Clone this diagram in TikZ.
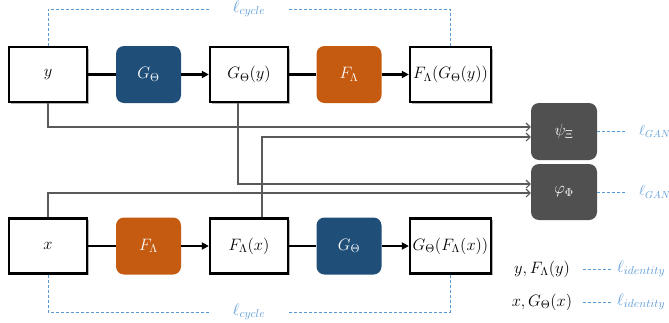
\RequirePackage{fix-cm}
\documentclass[tikz,border=0pt]{standalone}
\usetikzlibrary{arrows.meta,calc,shadows}
\definecolor{gblue}{HTML}{1F4E79}
\definecolor{forange}{HTML}{C55A11}
\definecolor{dgray}{HTML}{505050}
\definecolor{lblue}{HTML}{5B9BD5}
\definecolor{cgray}{HTML}{5A5A5A}
\newcommand{\bigtxt}{\fontsize{16.5}{19}\selectfont}
\newcommand{\gantxt}{\fontsize{14.5}{17}\selectfont}
\tikzset{every node/.style={font=\bigtxt}}
\begin{document}
\begin{tikzpicture}[x=1pt,y=-1pt,
  databox/.style={draw=black,line width=2.3pt,fill=white,minimum width=78pt,minimum height=55pt,inner sep=0pt,
     drop shadow={shadow xshift=1.5pt,shadow yshift=-1.5pt,opacity=0.3,fill=black}},
  netbox/.style={rounded corners=8pt,minimum width=65pt,minimum height=57pt,inner sep=0pt,text=white},
  gbox/.style={netbox,fill=gblue},
  fbox/.style={netbox,fill=forange},
  dbox/.style={netbox,fill=dgray,minimum width=66pt},
  mainline/.style={line width=2.3pt,black},
  mainarrow/.style={mainline,-{Triangle[length=7pt,width=7pt]}},
  feed/.style={cgray,line width=1.1pt,-{Straight Barb[length=4pt,width=8pt]}},
  lossline/.style={lblue,line width=1pt,dash pattern=on 3pt off 2pt},
  losslabel/.style={text=lblue,inner sep=0pt},
]
\useasboundingbox (0,0) rectangle (669,322);

% top row
\node[databox] (y) at (48,74.5) {$y$};
\node[gbox] (G1) at (148.5,74.5) {$G_\Theta$};
\node[databox] (Gy) at (249,74.5) {$G_\Theta(y)$};
\node[fbox] (F1) at (349,74.5) {$F_\Lambda$};
\node[databox,minimum width=81pt] (FGy) at (450.5,74.5) {$F_\Lambda(G_\Theta(y))$};

% bottom row
\node[databox] (x) at (48,246) {$x$};
\node[fbox] (F2) at (148.5,246) {$F_\Lambda$};
\node[databox] (Fx) at (249,246) {$F_\Lambda(x)$};
\node[gbox] (G2) at (349,246) {$G_\Theta$};
\node[databox,minimum width=81pt] (GFx) at (450.5,246) {$G_\Theta(F_\Lambda(x))$};

% discriminators
\node[dbox] (psi) at (564,131.5) {$\psi_\Xi$};
\node[dbox,minimum height=56pt] (phi) at (564,192) {$\varphi_\Phi$};

% main flow
\draw[mainline] (y) -- (G1);
\draw[mainarrow] (G1) -- (Gy);
\draw[mainline] (Gy) -- (F1);
\draw[mainarrow] (F1) -- (FGy);
\draw[mainline] (x) -- (F2);
\draw[mainarrow] (F2) -- (Fx);
\draw[mainline] (Fx) -- (G2);
\draw[mainarrow] (G2) -- (GFx);

% feeds to discriminators
\draw[feed] (y.south) |- ($(psi.west)+(0,-4.5)$);
\draw[feed] ($(Fx.north)+(13,0)$) |- ($(psi.west)+(0,5.5)$);
\draw[feed] ($(Gy.south)+(-11,0)$) |- ($(phi.west)+(0,-8)$);
\draw[feed] (x.north) |- ($(phi.west)+(0,1)$);

% cycle losses
\node[losslabel,minimum width=80pt] (lc1) at (249,9) {$\ell_{cycle}$};
\draw[lossline] (y.north) |- (lc1.west);
\draw[lossline] (lc1.east) -| (FGy.north);
\node[losslabel,minimum width=80pt] (lc2) at (249,312) {$\ell_{cycle}$};
\draw[lossline] (x.south) |- (lc2.west);
\draw[lossline] (lc2.east) -| (GFx.south);

% GAN losses
\node[losslabel,anchor=west,font=\gantxt] (gan1) at (639,131.5) {$\ell_{GAN}$};
\node[losslabel,anchor=west,font=\gantxt] (gan2) at (639,192) {$\ell_{GAN}$};
\draw[lossline] (psi.east) -- ($(gan1.west)+(-12,0)$);
\draw[lossline] (phi.east) -- ($(gan2.west)+(-12,0)$);

% identity losses
\node[inner sep=0pt] (id1) at (542,269) {$y,F_\Lambda(y)$};
\node[inner sep=0pt] (id2) at (542,302) {$x,G_\Theta(x)$};
\node[losslabel,anchor=west] (li1) at (617,269) {$\ell_{identity}$};
\node[losslabel,anchor=west] (li2) at (617,302) {$\ell_{identity}$};
\draw[lossline] ($(li1.west)+(-34,0)$) -- ($(li1.west)+(-4,0)$);
\draw[lossline] ($(li2.west)+(-34,0)$) -- ($(li2.west)+(-4,0)$);
\end{tikzpicture}
\end{document}
